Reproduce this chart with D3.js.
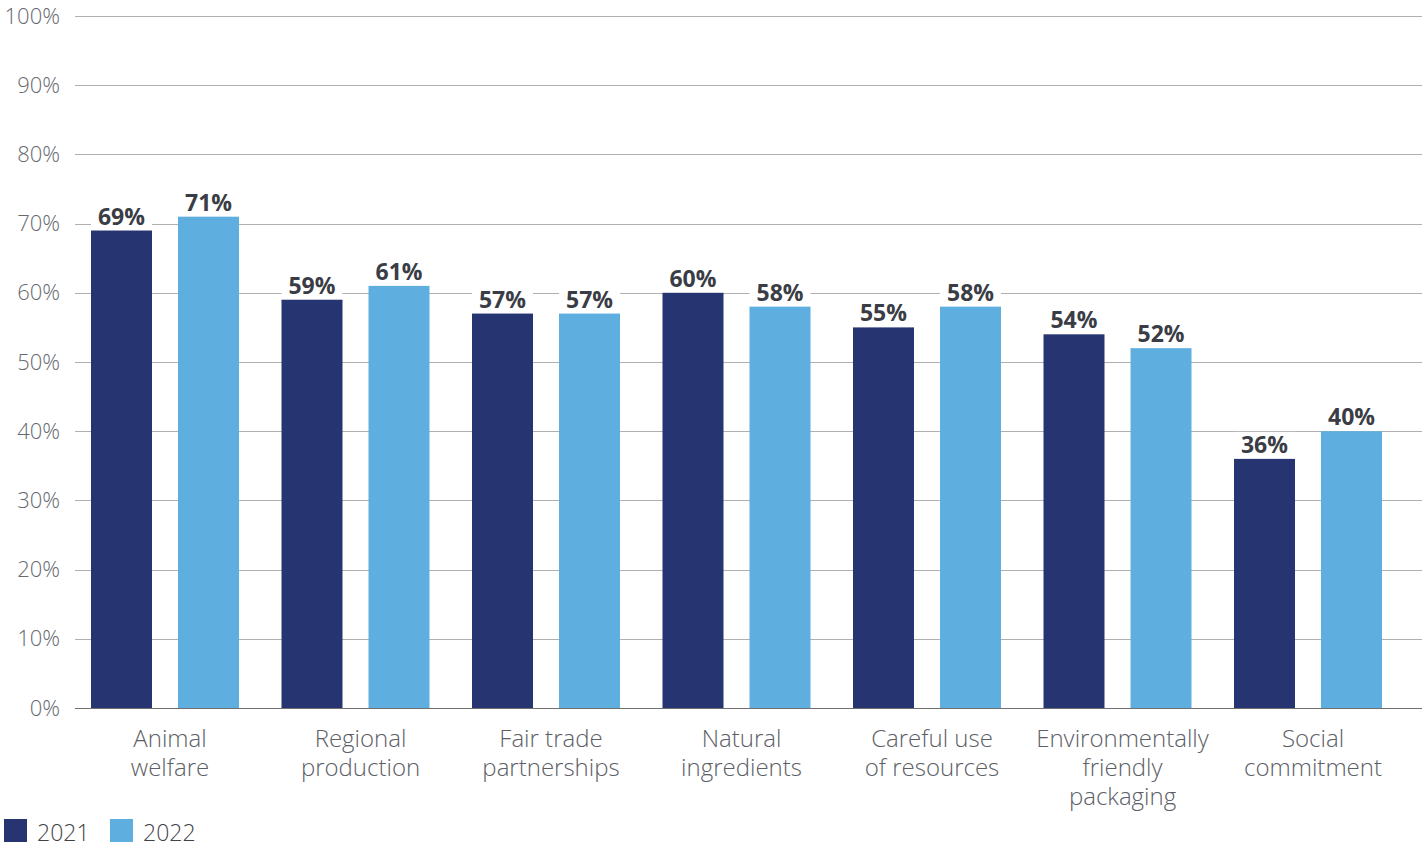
<!DOCTYPE html>
<html>
<head>
<meta charset="utf-8">
<script src="https://cdn.jsdelivr.net/npm/d3@7"></script>
<style>
  html, body { margin: 0; padding: 0; background: #fff; }
  svg { display: block; font-family: "Open Sans", "Noto Sans", sans-serif; }
</style>
</head>
<body>
<svg id="chart" width="1422" height="847"></svg>
<script>
// Consumer priorities by year (share of respondents, %)
const categories = [
  "Animal\nwelfare",
  "Regional\nproduction",
  "Fair trade\npartnerships",
  "Natural\ningredients",
  "Careful use\nof resources",
  "Environmentally\nfriendly\npackaging",
  "Social\ncommitment"
];
const years = ["2021", "2022"];
const values2021 = [69, 59, 57, 60, 55, 54, 36];
const values2022 = [71, 61, 57, 58, 58, 52, 40];
const yTicks = [0, 10, 20, 30, 40, 50, 60, 70, 80, 90, 100];

const colors = { "2021": "#263571", "2022": "#5eaedf" };

const W = 1422, H = 847;
const plot = { left: 75, right: 1422, top: 16, bottom: 708 };

const svg = d3.select("#chart");

const rows = categories.map((c, i) => ({
  category: c,
  values: [
    { year: "2021", value: values2021[i] },
    { year: "2022", value: values2022[i] }
  ]
}));

const y = d3.scaleLinear().domain([0, 100]).range([plot.bottom, plot.top]);

// Outer band: one slot per category, evenly spread
const x0 = d3.scaleBand()
  .domain(categories)
  .range([69.75, 1403.25])
  .paddingInner(0.2231)
  .paddingOuter(0.11155);

// Inner band: the two yearly bars inside a category slot
const x1 = d3.scaleBand()
  .domain(years)
  .range([0, x0.bandwidth()])
  .paddingInner(0.2989)
  .paddingOuter(0);

// Y axis with full-width gridlines
const yAxis = svg.append("g")
  .attr("transform", `translate(${plot.left},0)`)
  .call(d3.axisLeft(y)
    .tickValues(yTicks)
    .tickSize(-(plot.right - plot.left))
    .tickPadding(15)
    .tickFormat(d => d + "%"));
yAxis.select(".domain").remove();
yAxis.selectAll(".tick line")
  .attr("stroke", d => d === 0 ? "#707070" : "#b0b0b0")
  .attr("stroke-width", d => d === 0 ? 1.6 : 1)
  .attr("shape-rendering", "crispEdges");
yAxis.selectAll(".tick text")
  .attr("fill", "#666a70")
  .attr("font-size", 22)
  .attr("font-weight", 300)
  .attr("font-family", "'Open Sans', sans-serif");

// Bars
const groups = svg.append("g")
  .selectAll("g")
  .data(rows)
  .join("g")
  .attr("transform", d => `translate(${x0(d.category)},0)`);

groups.selectAll("rect.bar")
  .data(d => d.values)
  .join("rect")
  .attr("class", "bar")
  .attr("x", d => x1(d.year))
  .attr("y", d => y(d.value))
  .attr("width", x1.bandwidth())
  .attr("height", d => y(0) - y(d.value))
  .attr("fill", d => colors[d.year]);

// Value labels on a white plate that masks the gridlines
groups.selectAll("rect.plate")
  .data(d => d.values)
  .join("rect")
  .attr("class", "plate")
  .attr("x", d => x1(d.year))
  .attr("y", d => y(d.value) - 27)
  .attr("width", x1.bandwidth())
  .attr("height", 26)
  .attr("fill", "#fff");

groups.selectAll("text.value")
  .data(d => d.values)
  .join("text")
  .attr("class", "value")
  .attr("x", d => x1(d.year) + x1.bandwidth() / 2)
  .attr("y", d => y(d.value) - 6)
  .attr("text-anchor", "middle")
  .attr("font-size", 23)
  .attr("font-weight", 700)
  .attr("fill", "#3a3d45")
  .text(d => d.value + "%");

// Category labels (multi-line)
const xAxis = svg.append("g")
  .attr("transform", `translate(0,${plot.bottom})`)
  .call(d3.axisBottom(x0).tickSize(0).tickFormat(""));
xAxis.select(".domain").remove();
xAxis.selectAll(".tick text").remove();
xAxis.selectAll(".tick")
  .append("text")
  .attr("text-anchor", "middle")
  .attr("fill", "#5c6066")
  .attr("font-size", 24)
  .attr("font-weight", 300)
  .attr("font-family", "'Open Sans', sans-serif")
  .selectAll("tspan")
  .data(d => d.split("\n"))
  .join("tspan")
  .attr("x", 5)
  .attr("y", (d, i) => 39 + i * 29)
  .text(d => d);

// Legend
const legend = svg.append("g").attr("transform", "translate(4,819)");
const legendItems = legend.selectAll("g")
  .data(years)
  .join("g")
  .attr("transform", (d, i) => `translate(${i * 106},0)`);
legendItems.append("rect")
  .attr("width", 23)
  .attr("height", 23)
  .attr("fill", d => colors[d]);
legendItems.append("text")
  .attr("x", 33)
  .attr("y", 22)
  .attr("font-size", 23)
  .attr("font-weight", 300)
  .attr("fill", "#3f4247")
  .text(d => d);
</script>
</body>
</html>
